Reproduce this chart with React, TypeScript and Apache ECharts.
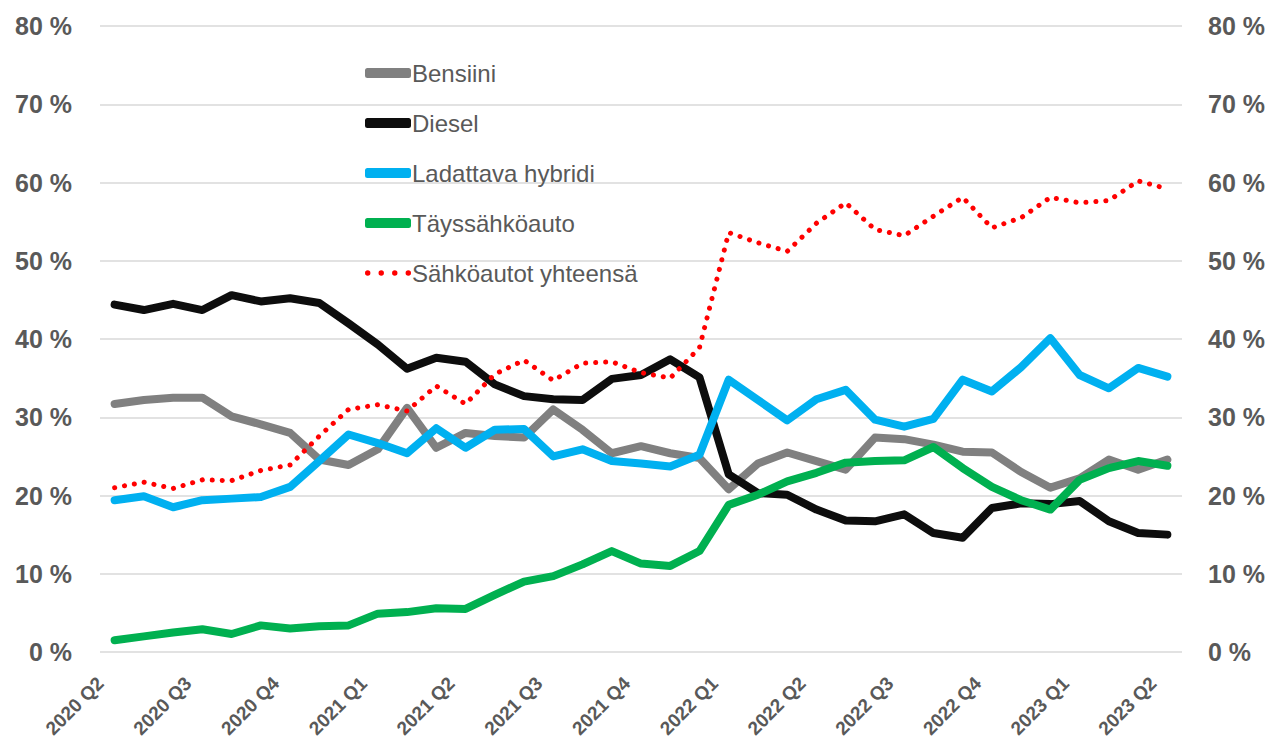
import React, { useEffect, useRef } from "react";
import * as echarts from "echarts";

const quarterLabels = [
  "2020 Q2", "2020 Q3", "2020 Q4", "2021 Q1", "2021 Q2", "2021 Q3", "2021 Q4",
  "2022 Q1", "2022 Q2", "2022 Q3", "2022 Q4", "2023 Q1", "2023 Q2",
];

// monthly points, three per quarter, labelled at the quarter start
const categories: string[] = [];
for (let i = 0; i < (quarterLabels.length - 1) * 3 + 1; i++) {
  const q = quarterLabels[Math.floor(i / 3)];
  categories.push(i % 3 === 0 ? q : `${q} m${(i % 3) + 1}`);
}

const bensiini = [
  31.7, 32.2, 32.5, 32.5, 30.1, 29.1, 28.0, 24.6, 23.9, 25.9, 31.2, 26.1, 28.0,
  27.6, 27.4, 31.0, 28.4, 25.4, 26.3, 25.4, 24.8, 20.8, 24.1, 25.5, 24.4, 23.3,
  27.4, 27.2, 26.5, 25.6, 25.5, 23.0, 21.0, 22.2, 24.6, 23.3, 24.6,
];
const diesel = [
  44.4, 43.7, 44.5, 43.7, 45.6, 44.8, 45.2, 44.6, 42.0, 39.3, 36.2, 37.6, 37.1,
  34.2, 32.7, 32.3, 32.2, 34.9, 35.4, 37.4, 35.1, 22.7, 20.3, 20.1, 18.2, 16.8,
  16.7, 17.6, 15.2, 14.6, 18.4, 19.0, 18.9, 19.3, 16.7, 15.2, 15.0,
];
const ladattava = [
  19.4, 19.9, 18.5, 19.4, 19.6, 19.8, 21.1, 24.4, 27.8, 26.7, 25.4, 28.6, 26.1,
  28.4, 28.5, 25.0, 25.9, 24.4, 24.1, 23.7, 25.2, 34.8, 32.2, 29.6, 32.3, 33.5,
  29.7, 28.8, 29.8, 34.8, 33.3, 36.4, 40.1, 35.4, 33.7, 36.3, 35.2,
];
const tayssahko = [
  1.5, 2.0, 2.5, 2.9, 2.3, 3.4, 3.0, 3.3, 3.4, 4.9, 5.1, 5.6, 5.5,
  7.3, 9.0, 9.7, 11.2, 12.9, 11.3, 11.0, 12.9, 18.8, 20.1, 21.8, 22.9, 24.2,
  24.4, 24.5, 26.2, 23.5, 21.1, 19.4, 18.2, 22.0, 23.5, 24.4, 23.8,
];
const yhteensa = [
  21.0, 21.7, 20.9, 22.0, 21.9, 23.2, 23.9, 27.6, 31.0, 31.6, 30.8, 34.0, 31.7,
  35.5, 37.3, 34.7, 36.9, 37.1, 35.7, 35.0, 38.9, 53.6, 52.3, 51.2, 54.8, 57.4,
  54.0, 53.2, 55.7, 58.1, 54.2, 55.5, 58.1, 57.4, 57.7, 60.2, 59.2,
];

const seriesNames = [
  "Bensiini", "Diesel", "Ladattava hybridi", "Täyssähköauto", "Sähköautot yhteensä",
];
const seriesColors = ["#808080", "#0d0d0d", "#00b0f0", "#00b050", "#ff0000"];

const dotIcon =
  "path://M0,2.5a2.5,2.5 0 1,0 5,0a2.5,2.5 0 1,0 -5,0Z" +
  "M12.5,2.5a2.5,2.5 0 1,0 5,0a2.5,2.5 0 1,0 -5,0Z" +
  "M25,2.5a2.5,2.5 0 1,0 5,0a2.5,2.5 0 1,0 -5,0Z" +
  "M37.5,2.5a2.5,2.5 0 1,0 5,0a2.5,2.5 0 1,0 -5,0Z";

const FONT = "'Liberation Sans', Arial, sans-serif";
const GREY = "#595959";

export default function App() {
  const ref = useRef<HTMLDivElement>(null);
  useEffect(() => {
    if (!ref.current) return;
    const chart = echarts.init(ref.current, null, { renderer: "svg" });
    const values = [bensiini, diesel, ladattava, tayssahko, yhteensa];
    const series = values.map((d, k) => ({
      name: seriesNames[k],
      type: "line",
      data: d,
      showSymbol: false,
      symbol: "none",
      yAxisIndex: 0,
      color: seriesColors[k],
      lineStyle:
        k === 4
          ? { color: seriesColors[k], width: 5, type: [0.1, 9.9], cap: "round" }
          : { color: seriesColors[k], width: 8, cap: "round", join: "round" },
    }));
    chart.setOption({
      animation: false,
      textStyle: { fontFamily: FONT },
      grid: { left: 100, right: 93, top: 26, bottom: 92, containLabel: false },
      legend: {
        orient: "vertical",
        left: 360,
        top: 55,
        itemWidth: 46,
        itemHeight: 10,
        itemGap: 24,
        selectedMode: false,
        textStyle: { color: GREY, fontSize: 24, fontFamily: FONT, lineHeight: 26, padding: [0, 0, 0, -4] },
        data: seriesNames.map((n, k) => ({ name: n, icon: k === 4 ? dotIcon : "roundRect" })),
      },
      xAxis: {
        type: "category",
        data: categories,
        boundaryGap: true,
        axisLine: { show: false },
        axisTick: { show: false },
        axisLabel: {
          interval: 2,
          rotate: 45,
          color: GREY,
          fontWeight: "bold",
          fontSize: 19,
          fontFamily: FONT,
          margin: 14,
          padding: [0, 20, 0, 0],
          formatter: (v: string) => v,
        },
      },
      yAxis: [
        {
          type: "value",
          min: 0,
          max: 80,
          interval: 10,
          axisLine: { show: false },
          axisTick: { show: false },
          axisLabel: {
            formatter: (v: number) => `${v} %`,
            color: GREY,
            fontWeight: "bold",
            fontSize: 25,
            fontFamily: FONT,
            margin: 28,
          },
          splitLine: { lineStyle: { color: "#d9d9d9", width: 1.5 } },
        },
        {
          type: "value",
          position: "right",
          min: 0,
          max: 80,
          interval: 10,
          axisLine: { show: false },
          axisTick: { show: false },
          axisLabel: {
            formatter: (v: number) => `${v} %`,
            color: GREY,
            fontWeight: "bold",
            fontSize: 25,
            fontFamily: FONT,
            margin: 26,
          },
          splitLine: { show: false },
        },
      ],
      series,
    });
    return () => chart.dispose();
  }, []);
  return (
    <div
      ref={ref}
      style={{ position: "absolute", left: 0, top: 0, width: 1275, height: 744, background: "#fff" }}
    />
  );
}
